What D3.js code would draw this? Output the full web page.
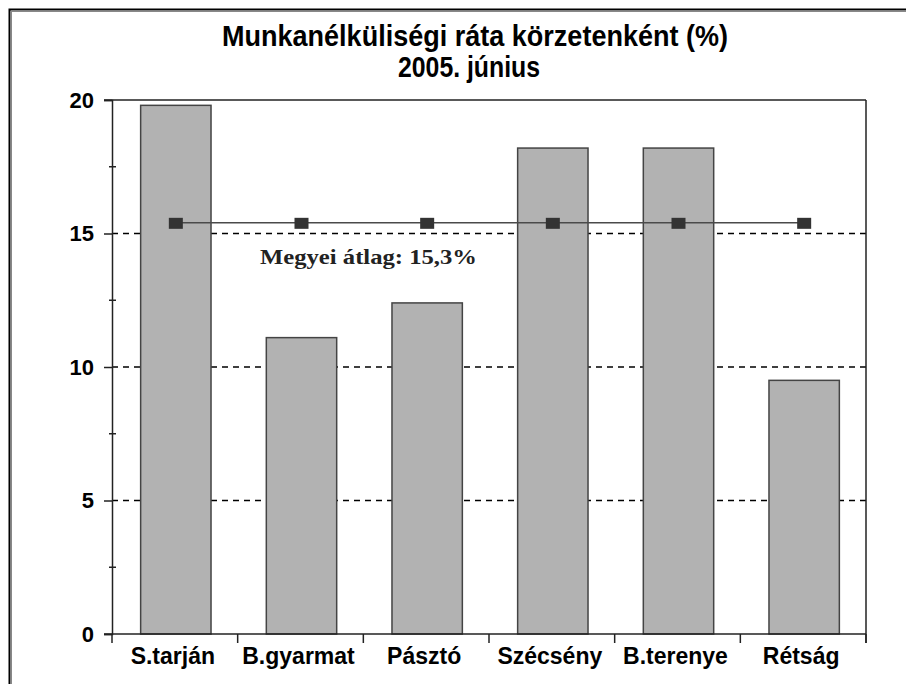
<!DOCTYPE html>
<html>
<head>
<meta charset="utf-8">
<script src="https://cdn.jsdelivr.net/npm/d3@7"></script>
<style>
  html, body { margin: 0; padding: 0; background: #fff; }
  svg { display: block; }
</style>
</head>
<body>
<svg id="chart" width="906" height="684"></svg>
<script>
const categories = ["S.tarján", "B.gyarmat", "Pásztó", "Szécsény", "B.terenye", "Rétság"];
const rates = [19.8, 11.1, 12.4, 18.2, 18.2, 9.5];
const countyAverage = [15.4, 15.4, 15.4, 15.4, 15.4, 15.4];
const yTicks = [0, 5, 10, 15, 20];
const yMinorTicks = [2.5, 7.5, 12.5, 17.5];
const gridValues = [5, 10, 15];
const titleLines = ["Munkanélküliségi ráta körzetenként (%)", "2005. június"];
const avgLabel = "Megyei átlag: 15,3%";

(function () {
const svg = d3.select("#chart");
const W = 906, H = 684;
const pLeft = 112, pRight = 866, pTop = 100, pBottom = 634;

// outer frame
svg.append("rect").attr("x", 9.5).attr("y", 9.5).attr("width", W + 20).attr("height", H + 20)
  .attr("fill", "#fff").attr("stroke", "#000").attr("stroke-width", 2);
svg.append("rect").attr("x", 11.5).attr("y", 11.5).attr("width", W + 20).attr("height", H + 20)
  .attr("fill", "none").attr("stroke", "#888").attr("stroke-width", 1);

const x = d3.scaleBand().domain(categories).range([pLeft, pRight]).paddingInner(0.44).paddingOuter(0.22);
const xStep = d3.scaleBand().domain(categories).range([pLeft, pRight]).padding(0);
const y = d3.scaleLinear().domain([0, 20]).range([pBottom, pTop]);

const font = "'Liberation Sans', Arial, sans-serif";
svg.append("text").attr("x", 475).attr("y", 46).attr("text-anchor", "middle")
  .attr("font-family", font).attr("font-weight", "bold").attr("font-size", 29)
  .attr("textLength", 506).attr("lengthAdjust", "spacingAndGlyphs")
  .attr("fill", "#000").text(titleLines[0]);
svg.append("text").attr("x", 469).attr("y", 77).attr("text-anchor", "middle")
  .attr("font-family", font).attr("font-weight", "bold").attr("font-size", 29)
  .attr("textLength", 142).attr("lengthAdjust", "spacingAndGlyphs")
  .attr("fill", "#000").text(titleLines[1]);

// dashed grid lines
svg.append("g").selectAll("line").data(gridValues).join("line")
  .attr("x1", pLeft).attr("x2", pRight)
  .attr("y1", d => y(d)).attr("y2", d => y(d))
  .attr("stroke", "#000").attr("stroke-width", 1.5).attr("stroke-dasharray", "6,5");

// top border (20) solid
svg.append("line").attr("x1", pLeft - 8).attr("x2", pRight).attr("y1", y(20)).attr("y2", y(20))
  .attr("stroke", "#222").attr("stroke-width", 1.5);
// right border
svg.append("line").attr("x1", pRight).attr("x2", pRight).attr("y1", y(20)).attr("y2", pBottom + 9)
  .attr("stroke", "#222").attr("stroke-width", 1.5);

// bars
svg.append("g").selectAll("rect").data(categories).join("rect")
  .attr("x", d => x(d) + 1).attr("width", x.bandwidth())
  .attr("y", (d, i) => y(rates[i])).attr("height", (d, i) => pBottom - y(rates[i]))
  .attr("fill", "#b2b2b2").attr("stroke", "#444").attr("stroke-width", 1.5);

// y axis
const yAxis = d3.axisLeft(y).tickValues(yTicks).tickSize(8).tickPadding(10).tickFormat(d3.format("d"));
const gy = svg.append("g").attr("transform", `translate(${pLeft},0)`).call(yAxis);
gy.select(".domain").attr("stroke", "#222").attr("stroke-width", 1.5);
gy.selectAll(".tick line").attr("stroke", "#222").attr("stroke-width", 1.5);
gy.selectAll(".tick text").attr("font-family", font).attr("font-weight", "bold")
  .attr("font-size", 22).attr("fill", "#000");
// minor ticks
svg.append("g").selectAll("line").data(yMinorTicks).join("line")
  .attr("x1", pLeft - 3).attr("x2", pLeft + 4)
  .attr("y1", d => y(d)).attr("y2", d => y(d))
  .attr("stroke", "#222").attr("stroke-width", 1.5);

// x axis
svg.append("line").attr("x1", pLeft - 8).attr("x2", pRight).attr("y1", pBottom).attr("y2", pBottom)
  .attr("stroke", "#222").attr("stroke-width", 1.5);
const boundaries = categories.map(c => xStep(c)).concat([pRight]);
svg.append("g").selectAll("line").data(boundaries).join("line")
  .attr("x1", d => d).attr("x2", d => d).attr("y1", pBottom).attr("y2", pBottom + 9)
  .attr("stroke", "#222").attr("stroke-width", 1.5);
svg.append("g").selectAll("text").data(categories).join("text")
  .attr("x", d => xStep(d) + xStep.bandwidth() / 2 - 2).attr("y", 664)
  .attr("text-anchor", "middle").attr("font-family", font).attr("font-weight", "bold")
  .attr("font-size", 23).attr("fill", "#000").text(d => d);

// average line with markers
const line = d3.line().x((d, i) => xStep(categories[i]) + xStep.bandwidth() / 2 + 1).y(d => y(d));
svg.append("path").datum(countyAverage).attr("d", line)
  .attr("fill", "none").attr("stroke", "#4a4a4a").attr("stroke-width", 1.5);
svg.append("g").selectAll("rect").data(countyAverage).join("rect")
  .attr("x", (d, i) => xStep(categories[i]) + xStep.bandwidth() / 2 - 6)
  .attr("y", d => y(d) - 5).attr("width", 14).attr("height", 11)
  .attr("fill", "#333");

// annotation
svg.append("text").attr("x", 260).attr("y", 264)
  .attr("font-family", "'Liberation Serif', 'Times New Roman', serif").attr("font-weight", "bold")
  .attr("font-size", 22).attr("textLength", 217).attr("lengthAdjust", "spacingAndGlyphs")
  .attr("fill", "#222").text(avgLabel);
})();
</script>
</body>
</html>
